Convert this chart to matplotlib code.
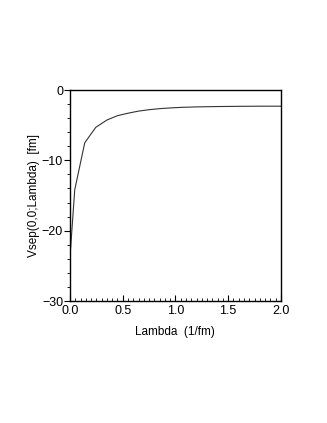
import matplotlib
matplotlib.use("Agg")
import matplotlib.pyplot as plt
from matplotlib.ticker import MultipleLocator

# -----------------------------
# DATA
# -----------------------------
lam = [0.0, 0.045, 0.14, 0.245, 0.35, 0.45, 0.55, 0.65, 0.75, 0.85, 0.95,
       1.05, 1.2, 1.4, 1.6, 1.8, 2.0]
vsep = [-23.8, -14.2, -7.5, -5.3, -4.27, -3.65, -3.3, -3.0, -2.8, -2.65, -2.55,
        -2.47, -2.4, -2.35, -2.32, -2.3, -2.3]

xticks = [0.0, 0.5, 1.0, 1.5, 2.0]
yticks = [0, -10, -20, -30]

plt.rcParams['font.family'] = ['Liberation Sans', 'DejaVu Sans']
plt.rcParams['axes.unicode_minus'] = True

fig = plt.figure(figsize=(3.27, 4.23), dpi=100)
ax = fig.add_axes([0.214, 0.2884, 0.645, 0.4988])

ax.plot(lam, vsep, color='#333333', lw=0.8)

ax.set_xlim(0, 2.0)
ax.set_ylim(-30, 0)
ax.set_xticks(xticks)
ax.set_xticklabels(["%.1f" % v for v in xticks])
ax.set_yticks(yticks)
ax.set_yticklabels(["0", "\u221210", "\u221220", "\u221230"])
ax.xaxis.set_minor_locator(MultipleLocator(0.05))
ax.yaxis.set_minor_locator(MultipleLocator(2))

ax.tick_params(axis='x', which='major', direction='in', length=4, width=0.8,
               labelsize=9, pad=3)
ax.tick_params(axis='x', which='minor', direction='in', length=2, width=0.6)
ax.tick_params(axis='y', which='major', direction='out', length=4, width=0.8,
               labelsize=9, pad=1)
ax.tick_params(axis='y', which='minor', direction='out', length=2, width=0.6)

for s in ax.spines.values():
    s.set_linewidth(1.0)

ax.set_xlabel("Lambda  (1/fm)", fontsize=8.5, labelpad=6)
ax.set_ylabel("Vsep(0,0;Lambda)  [fm]", fontsize=8.5)
ax.yaxis.set_label_coords(-0.14, 0.5)

fig.savefig("out.png", dpi=100)
